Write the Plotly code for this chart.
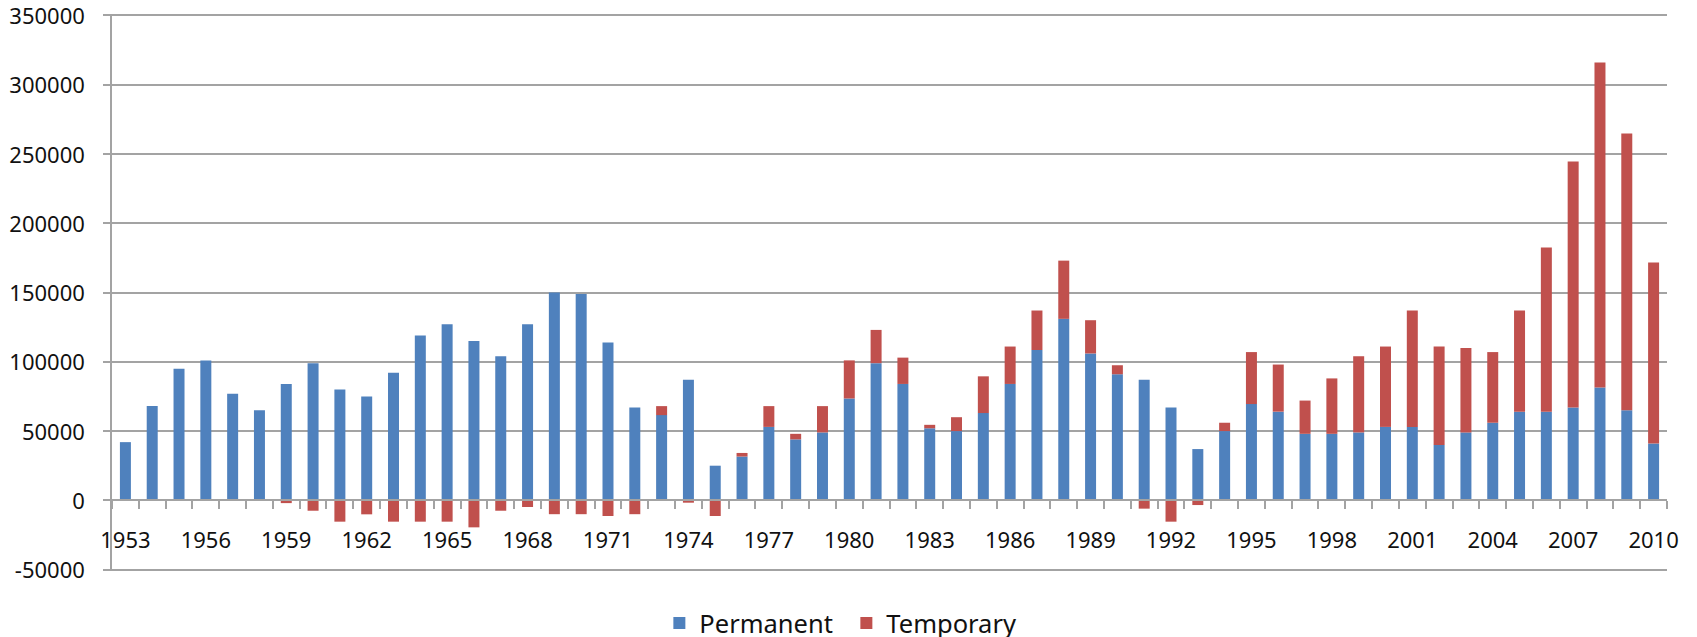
import plotly.graph_objects as go

years = list(range(1953, 2011))
permanent = [42000, 68000, 95000, 101000, 77000, 65000, 84000, 99000, 80000, 75000,
             92000, 119000, 127000, 115000, 104000, 127000, 150000, 149000, 114000, 67000,
             61500, 87000, 25000, 31600, 53000, 44000, 49000, 73500, 99000, 84000,
             52000, 50000, 63000, 84000, 108500, 131000, 106000, 91000, 87000, 67000,
             37000, 50000, 69500, 64000, 48000, 48000, 49000, 53000, 53000, 40000,
             49000, 56000, 64000, 64000, 67000, 81500, 65000, 41000]
temporary = [0, 0, 0, 0, 0, 0, -2000, -7500, -15400, -10100,
             -15400, -15400, -15400, -19500, -7500, -4800, -10000, -10000, -11300, -10000,
             6500, -1700, -11300, 2600, 15000, 4000, 19000, 27500, 24000, 19000,
             2500, 10000, 26500, 27000, 28500, 42000, 24000, 6500, -6000, -15400,
             -3400, 6000, 37500, 34000, 24000, 40000, 55000, 58000, 84000, 71000,
             61000, 51000, 73000, 118500, 177500, 234500, 199700, 130700]
label_years = list(range(1953, 2011, 3))
y_ticks = list(range(-50000, 350001, 50000))

font = dict(family="Noto Sans, DejaVu Sans, sans-serif", size=22, color="#111111")
grid = "#a3a3a3"

fig = go.Figure()
fig.add_trace(go.Bar(x=years, y=permanent, name="Permanent", marker=dict(color="#4F81BD", line=dict(width=0))))
fig.add_trace(go.Bar(x=years, y=temporary, name="Temporary", marker=dict(color="#C0504D", line=dict(width=0))))
# carrier trace for the label axis
fig.add_trace(go.Scatter(x=years, y=[0] * len(years), xaxis="x2", mode="markers",
                         marker=dict(opacity=0), showlegend=False, hoverinfo="skip"))

# range padded slightly so the -50000 and 350000 gridlines are drawn
ymin, ymax = -51000, 351000
fig.update_layout(
    width=1697, height=637,
    margin=dict(l=104, r=38, t=5.6, b=73.6, autoexpand=False),
    paper_bgcolor="white", plot_bgcolor="white",
    barmode="relative", bargap=0.59,
    font=font,
    legend=dict(orientation="h", x=0.352, xanchor="left", xref="paper",
                y=0.034, yanchor="middle", yref="container", entrywidth=142,
                font=dict(size=25.5), itemwidth=30, traceorder="normal"),
    xaxis=dict(range=[1952.5, 2010.5], anchor="free", position=(0 - ymin) / (ymax - ymin),
               showline=True, linecolor=grid, linewidth=1.5, automargin=False,
               ticks="outside", ticklen=8, tickcolor=grid, tickwidth=1.5,
               tickmode="linear", tick0=1952.5, dtick=1,
               showticklabels=False, showgrid=False, zeroline=False),
    xaxis2=dict(range=[1952.5, 2010.5], overlaying="x", anchor="free", automargin=False,
                position=(-17500 - ymin) / (ymax - ymin), side="bottom",
                showline=False, ticks="", tickmode="array", tickvals=label_years,
                ticktext=[str(y) for y in label_years], showgrid=False, zeroline=False,
                tickfont=dict(size=22), ticklabeloverflow="allow"),
    yaxis=dict(range=[ymin, ymax], tickmode="array", tickvals=y_ticks,
               ticktext=[str(v) for v in y_ticks], automargin=False,
               showgrid=True, gridcolor=grid, gridwidth=1.5,
               showline=True, linecolor=grid, linewidth=1.5,
               ticks="outside", ticklen=7, tickcolor=grid, tickwidth=1.5,
               zeroline=False, ticklabelstandoff=14, ticklabeloverflow="allow",
               ticklabelshift=1),
)

fig.write_html("out.html")
